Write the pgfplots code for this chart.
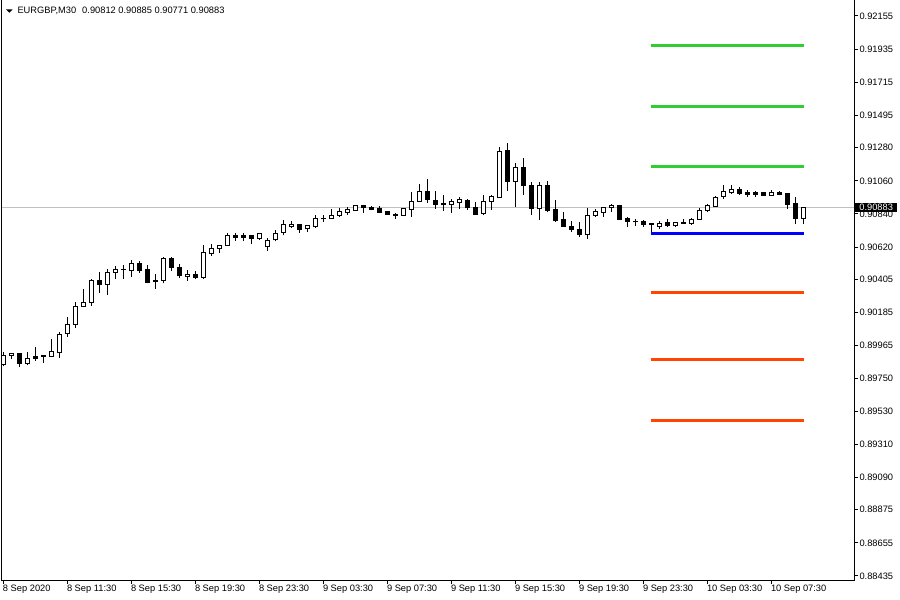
\documentclass[border=0pt]{standalone}
\usepackage{pgfplots}
\usepackage{pgfplotstable}
\pgfplotsset{compat=1.18}
\usepackage{fontspec}
\setmainfont{Liberation Sans}
\definecolor{pivgreen}{RGB}{50,205,50}
\definecolor{pivred}{RGB}{255,69,0}
\definecolor{pivblue}{RGB}{0,0,255}
\definecolor{bidgray}{RGB}{192,192,192}
% bullish candles: index open high low close
\pgfplotstableread{
i O H L C
0 0.89840 0.89923 0.89830 0.89903
1 0.89901 0.89918 0.89875 0.89914
3 0.89848 0.89925 0.89835 0.89883
6 0.89895 0.90009 0.89893 0.89923
7 0.89921 0.90054 0.89885 0.90040
8 0.90043 0.90154 0.90025 0.90107
9 0.90107 0.90255 0.90084 0.90227
10 0.90224 0.90342 0.90220 0.90255
11 0.90253 0.90406 0.90231 0.90401
13 0.90373 0.90474 0.90303 0.90452
14 0.90452 0.90494 0.90406 0.90472
15 0.90470 0.90501 0.90410 0.90470
16 0.90466 0.90534 0.90419 0.90508
20 0.90397 0.90554 0.90379 0.90547
23 0.90423 0.90468 0.90397 0.90441
25 0.90417 0.90634 0.90406 0.90587
26 0.90579 0.90638 0.90563 0.90612
27 0.90612 0.90632 0.90579 0.90632
28 0.90632 0.90715 0.90632 0.90700
32 0.90679 0.90715 0.90667 0.90707
33 0.90621 0.90679 0.90596 0.90665
34 0.90667 0.90731 0.90658 0.90713
35 0.90718 0.90800 0.90698 0.90767
36 0.90758 0.90791 0.90747 0.90773
38 0.90742 0.90765 0.90722 0.90765
39 0.90754 0.90833 0.90747 0.90811
41 0.90809 0.90873 0.90807 0.90833
42 0.90831 0.90880 0.90818 0.90853
43 0.90851 0.90888 0.90835 0.90871
44 0.90866 0.90902 0.90858 0.90895
50 0.90831 0.90882 0.90824 0.90875
51 0.90871 0.90984 0.90819 0.90924
52 0.90924 0.91039 0.90924 0.90990
56 0.90905 0.90941 0.90849 0.90920
57 0.90918 0.90951 0.90871 0.90933
60 0.90845 0.90964 0.90831 0.90924
61 0.90924 0.90964 0.90866 0.90957
62 0.90947 0.91283 0.90947 0.91256
64 0.91054 0.91177 0.90885 0.91150
67 0.90875 0.91054 0.90800 0.91032
73 0.90704 0.90879 0.90675 0.90831
74 0.90831 0.90875 0.90818 0.90853
75 0.90851 0.90885 0.90819 0.90885
76 0.90885 0.90907 0.90856 0.90899
82 0.90756 0.90793 0.90740 0.90779
84 0.90761 0.90789 0.90753 0.90783
85 0.90779 0.90809 0.90777 0.90783
86 0.90777 0.90812 0.90766 0.90806
87 0.90806 0.90880 0.90800 0.90866
88 0.90864 0.90908 0.90851 0.90893
89 0.90891 0.90959 0.90885 0.90951
90 0.90955 0.91034 0.90941 0.90986
91 0.90982 0.91034 0.90973 0.91000
96 0.90964 0.90996 0.90958 0.90982
100 0.90812 0.90885 0.90771 0.90883
}\bulls
% bearish candles: index open high low close
\pgfplotstableread{
i O H L C
2 0.89914 0.89916 0.89821 0.89848
4 0.89892 0.89958 0.89865 0.89883
5 0.89897 0.89901 0.89852 0.89890
12 0.90395 0.90452 0.90313 0.90373
17 0.90508 0.90528 0.90450 0.90466
18 0.90468 0.90501 0.90379 0.90383
19 0.90399 0.90439 0.90343 0.90389
21 0.90547 0.90554 0.90463 0.90486
22 0.90486 0.90508 0.90413 0.90428
24 0.90441 0.90461 0.90406 0.90417
29 0.90700 0.90715 0.90662 0.90685
30 0.90694 0.90715 0.90658 0.90685
31 0.90694 0.90700 0.90638 0.90679
37 0.90773 0.90774 0.90715 0.90740
40 0.90811 0.90833 0.90787 0.90807
45 0.90893 0.90893 0.90849 0.90886
46 0.90886 0.90891 0.90864 0.90868
47 0.90877 0.90893 0.90849 0.90851
48 0.90858 0.90860 0.90836 0.90838
49 0.90838 0.90849 0.90809 0.90833
53 0.90990 0.91072 0.90915 0.90935
54 0.90931 0.90993 0.90875 0.90902
55 0.90907 0.90964 0.90862 0.90902
58 0.90931 0.90937 0.90866 0.90882
59 0.90885 0.90917 0.90835 0.90835
63 0.91263 0.91309 0.90993 0.91054
65 0.91150 0.91210 0.90967 0.91028
66 0.91032 0.91054 0.90835 0.90879
68 0.91032 0.91059 0.90851 0.90866
69 0.90871 0.90930 0.90789 0.90795
70 0.90800 0.90853 0.90756 0.90756
71 0.90758 0.90791 0.90722 0.90735
72 0.90740 0.90784 0.90689 0.90702
77 0.90899 0.90902 0.90797 0.90804
78 0.90807 0.90823 0.90756 0.90791
79 0.90791 0.90809 0.90759 0.90787
80 0.90787 0.90803 0.90756 0.90772
81 0.90777 0.90777 0.90721 0.90773
83 0.90783 0.90809 0.90753 0.90763
92 0.91000 0.91018 0.90968 0.90977
93 0.90982 0.90996 0.90955 0.90968
94 0.90982 0.90993 0.90951 0.90968
95 0.90982 0.90983 0.90958 0.90964
97 0.90980 0.90992 0.90964 0.90968
98 0.90974 0.90976 0.90871 0.90902
99 0.90907 0.90951 0.90770 0.90812
}\bears
\pgfplotsset{
  candlebar/.style 2 args={draw=none, mark=none, mark size=0pt,
    error bars/.cd, y dir=plus, y explicit, error mark=none,
    error bar style={draw=#2, line width=#1, line cap=butt}},
}
\begin{document}
\begin{tikzpicture}
\useasboundingbox (0,0) rectangle (900pt,600pt);
\fill[white] (0,0) rectangle (900pt,600pt);
\begin{axis}[
  at={(2pt,20pt)}, anchor=south west,
  scale only axis, width=852.3pt, height=580.5pt,
  xmin=-0.1625, xmax=106.375,
  ymin=0.8840836, ymax=0.9226462,
  axis line style={black, line width=1pt},
  tick style={black, line width=1pt},
  tick align=outside, major tick length=4pt,
  xtick pos=left, ytick pos=right, yticklabel pos=right,
  /pgf/number format/assume math mode=true,
  tick label style={font=\fontsize{9.3}{11}\selectfont, text=black},
  xtick={0,8,16,24,32,40,48,56,64,72,80,88,96},
  xticklabels={8 Sep 2020, 8 Sep 11:30, 8 Sep 15:30, 8 Sep 19:30, 8 Sep 23:30, 9 Sep 03:30, 9 Sep 07:30, 9 Sep 11:30, 9 Sep 15:30, 9 Sep 19:30, 9 Sep 23:30, 10 Sep 03:30, 10 Sep 07:30},
  xticklabel style={anchor=north west, inner sep=0pt, xshift=-0.5pt, yshift=-0.5pt},
  ytick={0.92155,0.91935,0.91715,0.91495,0.91280,0.91060,0.90840,0.90620,0.90405,0.90185,0.89965,0.89750,0.89530,0.89310,0.89090,0.88875,0.88655,0.88435},
  yticklabels={0.92155,0.91935,0.91715,0.91495,0.91280,0.91060,0.90840,0.90620,0.90405,0.90185,0.89965,0.89750,0.89530,0.89310,0.89090,0.88875,0.88655,0.88435},
  yticklabel style={anchor=west, inner sep=1pt},
]
\addplot[bidgray, line width=1pt] coordinates {(-0.1625,0.90883) (106.375,0.90883)};
% wicks
\addplot[candlebar={1pt}{black}] table[x=i, y=L, y error plus expr=\thisrow{H}-\thisrow{L}] {\bulls};
\addplot[candlebar={1pt}{black}] table[x=i, y=L, y error plus expr=\thisrow{H}-\thisrow{L}] {\bears};
% bearish bodies (filled black)
\addplot[candlebar={5pt}{black}] table[x=i, y expr=\thisrow{C}-0.0000332, y error plus expr=\thisrow{O}-\thisrow{C}+0.0000664] {\bears};
% bullish bodies (black outline, white inside)
\addplot[candlebar={5pt}{black}] table[x=i, y expr=\thisrow{O}-0.0000332, y error plus expr=\thisrow{C}-\thisrow{O}+0.0000664] {\bulls};
\addplot[candlebar={3pt}{white}] table[x=i, y expr=\thisrow{O}+0.0000332, y error plus expr={max(\thisrow{C}-\thisrow{O}-0.0000664,0)}] {\bulls};
% pivot levels
\addplot[pivgreen, line width=3pt] coordinates {(80.95,0.91956) (100.1,0.91956)};
\addplot[pivgreen, line width=3pt] coordinates {(80.95,0.91555) (100.1,0.91555)};
\addplot[pivgreen, line width=3pt] coordinates {(80.95,0.91152) (100.1,0.91152)};
\addplot[pivblue, line width=3pt] coordinates {(80.95,0.90713) (100.1,0.90713)};
\addplot[pivred, line width=3pt] coordinates {(80.95,0.90315) (100.1,0.90315)};
\addplot[pivred, line width=3pt] coordinates {(80.95,0.89870) (100.1,0.89870)};
\addplot[pivred, line width=3pt] coordinates {(80.95,0.89471) (100.1,0.89471)};
\end{axis}
% header
\fill[black] (6pt,590.7pt) -- (12.7pt,590.7pt) -- (9.35pt,587.3pt) -- cycle;
\node[anchor=base west, inner sep=0pt, font=\fontsize{9.3}{11}\selectfont] at (17.3pt,586pt) {EURGBP,M30\hspace{6pt}0.90812 0.90885 0.90771 0.90883};
% current price box
\node[fill=black, text=white, anchor=west, inner sep=0pt, minimum width=42pt, minimum height=8.7pt, font=\fontsize{9.3}{11}\selectfont] at (855pt,392.6pt) {0.90883};
\end{tikzpicture}
\end{document}
